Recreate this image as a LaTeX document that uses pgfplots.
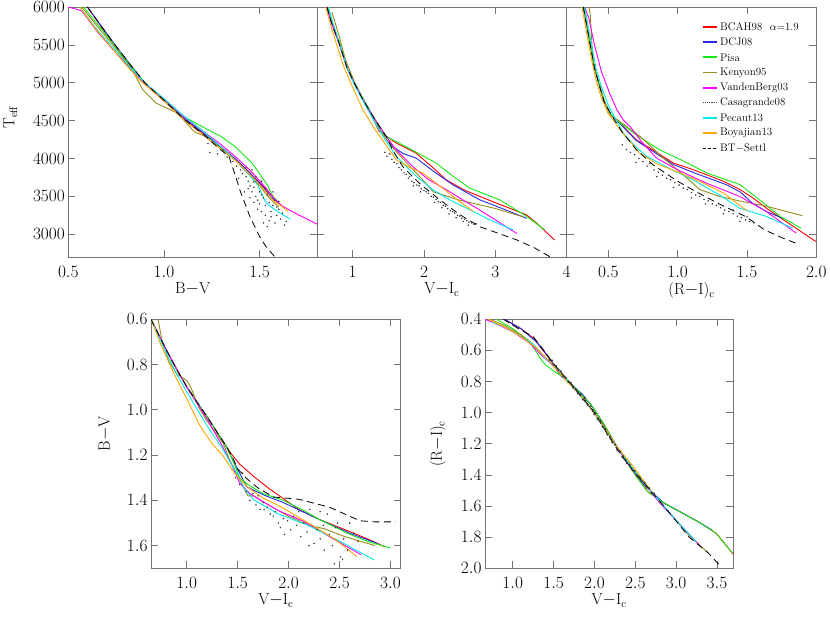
\documentclass[border=0pt]{standalone}
\usepackage{pgfplots}
\pgfplotsset{compat=1.18}

\definecolor{colA}{RGB}{255,0,0}
\definecolor{colB}{RGB}{40,40,230}
\definecolor{colC}{RGB}{20,235,20}
\definecolor{colD}{RGB}{150,140,30}
\definecolor{colE}{RGB}{255,0,255}
\definecolor{colF}{RGB}{0,235,235}
\definecolor{colG}{RGB}{255,165,0}

\newcommand{\lblfont}{\fontsize{16}{16}\selectfont}
\tikzset{lgtext/.style={anchor=west, font=\fontsize{11}{13}\selectfont, inner sep=0pt}}

\pgfplotsset{
  sBCAH/.style={colA, line width=0.9pt, mark=none},
  sDCJ/.style={colB, line width=0.9pt, mark=none},
  sPisa/.style={colC, line width=0.9pt, mark=none},
  sKen/.style={colD, line width=0.9pt, mark=none},
  sVdB/.style={colE, line width=0.9pt, mark=none},
  sCas/.style={only marks, mark=*, mark size=0.5pt, black!80},
  sPec/.style={colF, line width=0.9pt, mark=none},
  sBoy/.style={colG, line width=0.9pt, mark=none},
  sBT/.style={black, line width=0.8pt, mark=none, dash pattern=on 7pt off 4.5pt},
  key/.style={line width=1.8pt},
  panel/.style={
    scale only axis, anchor=south west,
    axis line style={black!55, line width=0.8pt},
    every tick/.style={black!55, line width=0.7pt},
    major tick length=7pt,
    tick align=inside,
    tick label style={font=\lblfont},
    xticklabel shift=6pt,
    every axis x label/.style={at={(axis description cs:0.5,0)}, anchor=north, yshift=-22pt, font=\lblfont},
    every axis y label/.style={font=\lblfont},
    enlargelimits=false,
    /pgf/number format/fixed, /pgf/number format/fixed zerofill, /pgf/number format/precision=1,
  },
}

\begin{document}
\begin{tikzpicture}
\useasboundingbox (0pt,0pt) rectangle (830pt,617pt);

% ---------- panel 1: B-V vs Teff
\begin{axis}[panel, at={(68.3pt,360pt)}, width=248.7pt, height=250pt,
  xmin=0.5, xmax=1.8, ymin=2700, ymax=6000,
  xtick={0.5,1.0,1.5}, ytick={3000,3500,4000,4500,5000,5500,6000},
  yticklabel style={/pgf/number format/precision=0, /pgf/number format/fixed zerofill=false, /pgf/number format/1000 sep={}},
  xlabel={B$-$V}, ylabel={T$_\mathrm{eff}$},
  ylabel style={at={(axis description cs:0,0.56)}, xshift=-58pt, rotate=90, anchor=center}]
\addplot[sBCAH] coordinates {(0.60,6000)(0.67,5750)(0.74,5500)(0.82,5240)(0.89,5020)(1.00,4760)(1.10,4530)(1.20,4340)(1.30,4150)(1.37,4000)(1.45,3810)(1.52,3630)(1.57,3490)(1.60,3400)};
\addplot[sDCJ] coordinates {(0.60,6000)(0.68,5720)(0.75,5480)(0.83,5220)(0.90,5000)(1.00,4770)(1.10,4540)(1.20,4350)(1.30,4140)(1.38,3980)(1.46,3780)(1.52,3620)(1.56,3490)(1.595,3420)};
\addplot[sPisa] coordinates {(0.58,6000)(0.66,5750)(0.74,5500)(0.82,5240)(0.90,5000)(1.00,4770)(1.10,4560)(1.20,4420)(1.30,4290)(1.38,4140)(1.46,3940)(1.50,3800)(1.54,3650)(1.57,3500)(1.60,3420)};
\addplot[sKen] coordinates {(0.57,6000)(0.65,5750)(0.75,5450)(0.83,5190)(0.89,4905)(0.96,4730)(1.07,4600)(1.16,4350)(1.22,4290)(1.30,4130)(1.38,3960)(1.44,3800)(1.50,3640)(1.55,3480)(1.60,3360)};
\addplot[sVdB] coordinates {(0.50,6000)(0.57,5950)(0.65,5680)(0.74,5420)(0.82,5200)(0.90,4990)(1.00,4780)(1.10,4560)(1.20,4370)(1.30,4180)(1.38,4010)(1.46,3820)(1.53,3620)(1.58,3460)(1.62,3370)(1.70,3260)(1.80,3135)(1.85,3070)};
\addplot[sCas] coordinates {(1.23,4200)(1.24,4080)(1.28,4060)(1.31,4110)(1.33,4020)(1.36,3960)(1.38,3900)(1.40,3850)(1.41,3800)(1.43,3760)(1.44,3700)(1.45,3640)(1.46,3560)(1.47,3620)(1.48,3500)(1.49,3450)(1.50,3400)(1.50,3560)(1.51,3300)(1.52,3480)(1.53,3380)(1.53,3250)(1.54,3520)(1.55,3420)(1.55,3180)(1.56,3300)(1.57,3380)(1.58,3450)(1.58,3150)(1.59,3250)(1.60,3330)(1.61,3200)(1.62,3280)(1.63,3120)(1.64,3170)(1.47,3420)(1.45,3480)(1.49,3330)(1.52,3150)(1.42,3560)(1.43,3880)(1.39,3740)(1.46,3850)(1.48,3760)(1.51,3700)(1.57,3560)(1.60,3430)(1.54,3100)(1.44,3600)(1.51,3520)(1.56,3230)(1.59,3360)(1.53,3600)(1.47,3690)};
\addplot[sPec] coordinates {(0.56,6000)(0.65,5700)(0.74,5450)(0.82,5210)(0.90,5000)(1.00,4790)(1.10,4570)(1.15,4470)(1.20,4370)(1.30,4150)(1.38,3960)(1.44,3800)(1.49,3650)(1.535,3410)(1.60,3290)(1.66,3200)};
\addplot[sBoy] coordinates {(0.56,6000)(0.64,5720)(0.72,5480)(0.80,5240)(0.88,5020)(1.00,4760)(1.10,4520)(1.20,4320)(1.30,4120)(1.38,3960)(1.46,3760)(1.52,3600)(1.57,3450)(1.62,3360)(1.65,3300)};
\addplot[sBT] coordinates {(0.60,6000)(0.68,5720)(0.75,5480)(0.83,5220)(0.90,5000)(1.00,4770)(1.10,4530)(1.20,4330)(1.28,4150)(1.34,4025)(1.37,3800)(1.40,3560)(1.45,3230)(1.50,2970)(1.53,2850)(1.56,2760)(1.58,2700)};
\end{axis}

% ---------- panel 2: V-I vs Teff
\begin{axis}[panel, at={(317pt,360pt)}, width=249.7pt, height=250pt,
  xmin=0.5, xmax=4, ymin=2700, ymax=6000,
  xtick={1,2,3,4}, ytick={3000,3500,4000,4500,5000,5500,6000}, yticklabels={},
  xticklabel style={/pgf/number format/precision=0, /pgf/number format/fixed zerofill=false},
  xlabel={V$-$I$_\mathrm{c}$}]
\addplot[sBCAH] coordinates {(0.64,6000)(0.70,5800)(0.81,5520)(0.92,5200)(1.02,5000)(1.12,4820)(1.23,4640)(1.37,4360)(1.60,4210)(1.89,4070)(2.10,3900)(2.31,3720)(2.55,3590)(2.78,3500)(3.10,3380)(3.44,3255)(3.58,3145)(3.83,2925)};
\addplot[sDCJ] coordinates {(0.64,6000)(0.70,5800)(0.81,5520)(0.92,5200)(1.02,5000)(1.12,4820)(1.23,4640)(1.35,4460)(1.47,4290)(1.56,4160)(1.70,4070)(1.89,4005)(2.15,3820)(2.41,3650)(2.78,3455)(3.15,3320)(3.44,3210)};
\addplot[sPisa] coordinates {(0.65,6000)(0.71,5800)(0.82,5520)(0.93,5200)(1.03,5000)(1.13,4820)(1.24,4640)(1.42,4315)(1.80,4130)(2.17,3940)(2.40,3770)(2.64,3610)(3.06,3455)(3.44,3235)(3.69,3060)};
\addplot[sKen] coordinates {(0.71,5930)(0.80,5650)(0.90,5300)(1.02,5020)(1.15,4760)(1.30,4500)(1.45,4280)(1.60,4100)(1.80,3900)(2.00,3700)(2.13,3560)(2.50,3450)(3.00,3340)(3.39,3230)};
\addplot[sVdB] coordinates {(0.64,6000)(0.70,5800)(0.81,5520)(0.92,5200)(1.02,5000)(1.12,4820)(1.23,4640)(1.35,4460)(1.47,4290)(1.61,4115)(1.84,3895)(2.05,3730)(2.31,3590)(2.55,3450)(2.78,3320)(3.05,3160)(3.30,3010)};
\addplot[sCas] coordinates {(1.45,4080)(1.48,4030)(1.52,4060)(1.55,3990)(1.58,3950)(1.62,3930)(1.65,3880)(1.68,3850)(1.72,3810)(1.75,3790)(1.78,3740)(1.80,3760)(1.83,3700)(1.86,3680)(1.90,3650)(1.93,3640)(1.96,3600)(2.00,3580)(2.03,3560)(2.06,3540)(2.10,3500)(2.13,3490)(2.17,3460)(2.20,3430)(2.23,3420)(2.27,3380)(2.30,3370)(2.33,3340)(2.37,3310)(2.40,3300)(2.43,3280)(2.47,3250)(2.50,3240)(2.53,3210)(2.57,3200)(2.60,3180)(2.63,3160)(2.67,3150)(2.70,3130)(2.73,3140)(2.35,3270)(2.45,3220)(2.55,3170)(2.15,3420)(1.95,3560)(1.85,3640)(2.62,3120)(2.25,3350)};
\addplot[sPec] coordinates {(0.66,6000)(0.72,5800)(0.82,5500)(0.92,5200)(1.02,4980)(1.15,4750)(1.28,4530)(1.42,4300)(1.61,4030)(1.85,3800)(2.12,3590)(2.35,3460)(2.55,3365)(2.90,3200)(3.25,3058)};
\addplot[sBoy] coordinates {(0.62,6000)(0.68,5800)(0.77,5520)(0.88,5200)(0.98,4980)(1.14,4650)(1.30,4400)(1.45,4200)(1.61,3985)(1.80,3880)(1.98,3810)(2.30,3580)(2.50,3430)(2.69,3300)};
\addplot[sBT] coordinates {(0.64,6000)(0.70,5800)(0.81,5520)(0.92,5200)(1.02,5000)(1.12,4820)(1.23,4640)(1.35,4460)(1.47,4290)(1.58,4080)(1.70,3895)(1.95,3660)(2.22,3455)(2.50,3260)(2.78,3100)(3.05,3010)(3.30,2925)(3.55,2820)(3.77,2700)};
\end{axis}

% ---------- panel 3: (R-I) vs Teff, with the key in its upper right
\begin{axis}[panel, at={(566.7pt,360pt)}, width=249.6pt, height=250pt,
  xmin=0.2, xmax=2.0, ymin=2700, ymax=6000,
  xtick={0.5,1.0,1.5,2.0}, ytick={3000,3500,4000,4500,5000,5500,6000}, yticklabels={},
  xlabel={(R$-$I)$_\mathrm{c}$}]
\addplot[sBCAH] coordinates {(0.32,6000)(0.34,5800)(0.36,5600)(0.38,5400)(0.40,5200)(0.43,5000)(0.47,4750)(0.52,4580)(0.585,4460)(0.70,4250)(0.85,4080)(0.97,3940)(1.10,3860)(1.21,3785)(1.33,3700)(1.45,3590)(1.55,3470)(1.64,3345)(1.78,3170)(1.98,2925)(2.02,2880)};
\addplot[sDCJ] coordinates {(0.32,6000)(0.34,5800)(0.36,5600)(0.38,5400)(0.40,5200)(0.43,5000)(0.47,4750)(0.52,4580)(0.585,4460)(0.70,4240)(0.85,4060)(0.97,3920)(1.15,3790)(1.35,3655)(1.45,3560)(1.54,3410)(1.64,3300)(1.76,3210)};
\addplot[sPisa] coordinates {(0.32,6000)(0.34,5800)(0.36,5600)(0.38,5400)(0.40,5200)(0.43,5000)(0.47,4750)(0.52,4580)(0.584,4470)(0.72,4290)(0.87,4115)(1.05,3960)(1.21,3810)(1.45,3655)(1.59,3455)(1.74,3235)(1.89,3080)};
\addplot[sKen] coordinates {(0.36,6000)(0.37,5900)(0.39,5250)(0.45,4900)(0.50,4590)(0.59,4480)(0.73,4290)(0.90,4000)(1.00,3850)(1.16,3590)(1.30,3500)(1.46,3435)(1.64,3370)(1.90,3245)};
\addplot[sVdB] coordinates {(0.33,6000)(0.36,5850)(0.40,5500)(0.45,5150)(0.51,4860)(0.56,4650)(0.607,4510)(0.656,4425)(0.75,4200)(0.848,4005)(1.00,3850)(1.207,3675)(1.447,3500)(1.64,3300)(1.855,3015)};
\addplot[sCas] coordinates {(0.60,4180)(0.63,4120)(0.66,4080)(0.69,4050)(0.72,4000)(0.75,3960)(0.78,3900)(0.80,3930)(0.83,3850)(0.86,3820)(0.89,3780)(0.92,3740)(0.95,3720)(0.98,3680)(1.01,3650)(1.04,3610)(1.07,3590)(1.10,3550)(1.13,3520)(1.16,3500)(1.19,3460)(1.22,3440)(1.25,3400)(1.28,3380)(1.31,3350)(1.34,3320)(1.37,3300)(1.40,3270)(1.43,3240)(1.46,3220)(1.49,3190)(1.52,3170)(1.55,3150)(0.85,3760)(0.97,3620)(1.10,3480)(1.20,3400)(1.33,3270)(1.45,3170)(0.70,3950)(1.50,3230)(1.40,3320)};
\addplot[sPec] coordinates {(0.33,6000)(0.35,5800)(0.38,5500)(0.41,5200)(0.45,4950)(0.50,4700)(0.55,4530)(0.608,4335)(0.70,4150)(0.776,4030)(0.95,3860)(1.11,3720)(1.30,3520)(1.447,3345)(1.64,3235)(1.83,3080)};
\addplot[sBoy] coordinates {(0.31,6000)(0.33,5800)(0.35,5600)(0.38,5300)(0.41,5050)(0.45,4800)(0.50,4600)(0.584,4380)(0.728,4070)(0.85,3930)(1.016,3810)(1.18,3680)(1.33,3545)(1.42,3420)(1.50,3310)};
\addplot[sBT] coordinates {(0.32,6000)(0.34,5800)(0.36,5600)(0.38,5400)(0.40,5200)(0.43,5000)(0.47,4750)(0.52,4580)(0.60,4350)(0.70,4120)(0.82,3920)(1.00,3700)(1.135,3560)(1.30,3400)(1.495,3230)(1.627,3058)(1.76,2948)(1.87,2870)};
% key: short sample strokes and their names
\addplot[sBCAH, key] coordinates {(1.18,5735)(1.285,5735)};
\addplot[sDCJ, key]  coordinates {(1.18,5535)(1.285,5535)};
\addplot[sPisa, key] coordinates {(1.18,5335)(1.285,5335)};
\addplot[sKen, key]  coordinates {(1.18,5135)(1.285,5135)};
\addplot[sVdB, key]  coordinates {(1.18,4935)(1.285,4935)};
\addplot[black!70, densely dotted, line width=1.2pt, mark=none] coordinates {(1.18,4735)(1.285,4735)};
\addplot[sPec, key]  coordinates {(1.18,4535)(1.285,4535)};
\addplot[sBoy, key]  coordinates {(1.18,4335)(1.285,4335)};
\addplot[black, line width=1.1pt, mark=none, dash pattern=on 3pt off 2pt] coordinates {(1.18,4135)(1.285,4135)};
\node[lgtext] at (axis cs:1.305,5735) {BCAH98\ \ $\alpha$=1.9};
\node[lgtext] at (axis cs:1.305,5535) {DCJ08};
\node[lgtext] at (axis cs:1.305,5335) {Pisa};
\node[lgtext] at (axis cs:1.305,5135) {Kenyon95};
\node[lgtext] at (axis cs:1.305,4935) {VandenBerg03};
\node[lgtext] at (axis cs:1.305,4735) {Casagrande08};
\node[lgtext] at (axis cs:1.305,4535) {Pecaut13};
\node[lgtext] at (axis cs:1.305,4335) {Boyajian13};
\node[lgtext] at (axis cs:1.305,4135) {BT$-$Settl};
\end{axis}

% ---------- panel 4: V-I vs B-V
\begin{axis}[panel, at={(151pt,48.7pt)}, width=249.7pt, height=249pt,
  xmin=0.65, xmax=3.1, ymin=0.6, ymax=1.7, y dir=reverse,
  xtick={1.0,1.5,2.0,2.5,3.0}, ytick={0.6,0.8,1.0,1.2,1.4,1.6},
  xlabel={V$-$I$_\mathrm{c}$}, ylabel={B$-$V},
  ylabel style={at={(axis description cs:0,0.54)}, xshift=-46pt, rotate=90, anchor=center}]
\addplot[sBCAH] coordinates {(0.65,0.60)(0.70,0.645)(0.80,0.735)(0.90,0.82)(1.00,0.897)(1.10,0.965)(1.20,1.03)(1.30,1.10)(1.43,1.19)(1.52,1.24)(1.66,1.295)(1.80,1.345)(1.92,1.383)(2.10,1.44)(2.31,1.486)(2.50,1.52)(2.64,1.545)(2.80,1.575)(2.94,1.604)};
\addplot[sDCJ] coordinates {(0.65,0.60)(0.70,0.645)(0.80,0.735)(0.90,0.82)(1.00,0.897)(1.10,0.965)(1.20,1.03)(1.30,1.10)(1.39,1.162)(1.45,1.22)(1.52,1.28)(1.59,1.34)(1.75,1.375)(1.95,1.41)(2.31,1.486)(2.60,1.545)(2.87,1.59)};
\addplot[sPisa] coordinates {(0.65,0.60)(0.70,0.645)(0.80,0.735)(0.90,0.82)(1.00,0.897)(1.10,0.965)(1.20,1.03)(1.30,1.10)(1.39,1.162)(1.45,1.22)(1.52,1.30)(1.60,1.33)(1.75,1.37)(1.95,1.40)(2.15,1.445)(2.31,1.486)(2.60,1.55)(2.80,1.585)(3.00,1.61)};
\addplot[sKen] coordinates {(0.72,0.60)(0.76,0.70)(0.82,0.78)(0.90,0.84)(1.00,0.87)(1.04,0.90)(1.12,0.99)(1.20,1.05)(1.30,1.11)(1.36,1.15)(1.42,1.22)(1.50,1.29)(1.60,1.38)(1.66,1.38)(1.80,1.42)(2.00,1.47)(2.20,1.51)(2.35,1.525)(2.55,1.56)(2.70,1.58)(2.85,1.60)};
\addplot[sVdB] coordinates {(0.65,0.60)(0.80,0.735)(1.00,0.90)(1.20,1.04)(1.35,1.16)(1.45,1.25)(1.52,1.324)(1.62,1.37)(1.72,1.398)(1.90,1.445)(2.15,1.493)(2.40,1.56)(2.71,1.64)};
\addplot[sCas] coordinates {(1.48,1.30)(1.52,1.33)(1.55,1.28)(1.58,1.36)(1.62,1.40)(1.65,1.37)(1.68,1.42)(1.72,1.44)(1.75,1.41)(1.76,1.44)(1.79,1.43)(1.82,1.46)(1.85,1.47)(1.87,1.45)(1.90,1.50)(1.92,1.52)(1.95,1.48)(1.99,1.49)(2.02,1.53)(2.05,1.47)(2.08,1.51)(2.12,1.56)(2.15,1.50)(2.18,1.54)(2.21,1.44)(2.25,1.59)(2.28,1.53)(2.31,1.45)(2.31,1.57)(2.34,1.51)(2.38,1.46)(2.40,1.55)(2.43,1.60)(2.46,1.52)(2.48,1.50)(2.51,1.65)(2.54,1.57)(2.58,1.62)(2.64,1.545)(2.60,1.50)(2.35,1.62)(2.20,1.60)(1.70,1.38)(2.68,1.58)(2.10,1.45)(1.96,1.55)(2.45,1.68)(2.53,1.66)};
\addplot[sPec] coordinates {(0.65,0.60)(0.80,0.75)(0.90,0.84)(1.00,0.92)(1.20,1.07)(1.35,1.17)(1.49,1.28)(1.57,1.35)(1.66,1.398)(1.90,1.46)(2.18,1.508)(2.50,1.58)(2.84,1.663)};
\addplot[sBoy] coordinates {(0.65,0.60)(0.75,0.715)(0.85,0.815)(0.93,0.89)(1.00,0.95)(1.13,1.07)(1.25,1.15)(1.36,1.205)(1.47,1.28)(1.59,1.339)(1.75,1.39)(1.92,1.427)(2.25,1.515)(2.45,1.57)(2.67,1.648)};
\addplot[sBT] coordinates {(0.65,0.60)(0.70,0.645)(0.80,0.735)(0.90,0.82)(1.00,0.897)(1.10,0.965)(1.20,1.03)(1.30,1.10)(1.39,1.162)(1.45,1.21)(1.50,1.26)(1.58,1.30)(1.70,1.345)(1.85,1.385)(2.10,1.395)(2.40,1.43)(2.70,1.49)(2.85,1.495)(3.05,1.495)};
\end{axis}

% ---------- panel 5: V-I vs (R-I)
\begin{axis}[panel, at={(485pt,48.7pt)}, width=248.3pt, height=249pt,
  xmin=0.66, xmax=3.7, ymin=0.4, ymax=2.0, y dir=reverse,
  xtick={1.0,1.5,2.0,2.5,3.0,3.5}, ytick={0.4,0.6,0.8,1.0,1.2,1.4,1.6,1.8,2.0},
  xlabel={V$-$I$_\mathrm{c}$}, ylabel={(R$-$I)$_\mathrm{c}$},
  ylabel style={at={(axis description cs:0,0.50)}, xshift=-47pt, rotate=90, anchor=center}]
\addplot[sBCAH] coordinates {(0.90,0.40)(1.10,0.46)(1.25,0.52)(1.40,0.62)(1.55,0.72)(1.74,0.83)(1.96,0.95)(2.10,1.06)(2.30,1.24)(2.50,1.40)(2.65,1.507)(2.85,1.58)(3.08,1.646)(3.30,1.71)(3.49,1.775)(3.69,1.903)(3.75,1.94)};
\addplot[sDCJ] coordinates {(0.90,0.40)(1.10,0.46)(1.30,0.55)(1.45,0.65)(1.577,0.758)(1.70,0.81)(1.85,0.88)(2.00,0.98)(2.20,1.16)(2.40,1.32)(2.60,1.46)(2.70,1.51)(2.85,1.58)(3.08,1.646)(3.30,1.71)(3.44,1.755)};
\addplot[sPisa] coordinates {(0.80,0.40)(1.00,0.46)(1.20,0.54)(1.30,0.62)(1.36,0.67)(1.42,0.70)(1.52,0.74)(1.65,0.78)(1.80,0.86)(1.96,0.95)(2.10,1.06)(2.30,1.24)(2.50,1.40)(2.65,1.507)(2.85,1.58)(3.08,1.646)(3.30,1.71)(3.49,1.775)(3.69,1.903)};
\addplot[sKen] coordinates {(0.72,0.40)(0.90,0.44)(1.10,0.50)(1.25,0.56)(1.40,0.65)(1.55,0.73)(1.74,0.835)(1.98,0.99)(2.15,1.12)(2.31,1.25)(2.50,1.38)(2.72,1.52)(2.96,1.67)(3.16,1.79)(3.39,1.90)};
\addplot[sVdB] coordinates {(0.66,0.40)(0.80,0.43)(1.00,0.48)(1.20,0.55)(1.35,0.63)(1.50,0.70)(1.74,0.835)(1.98,0.99)(2.20,1.16)(2.40,1.32)(2.60,1.45)(2.80,1.58)(3.05,1.72)(3.30,1.86)};
\addplot[sPec] coordinates {(0.75,0.42)(0.90,0.45)(1.10,0.51)(1.25,0.56)(1.40,0.65)(1.55,0.72)(1.74,0.835)(1.98,0.99)(2.20,1.16)(2.40,1.31)(2.60,1.45)(2.85,1.60)(3.05,1.72)(3.25,1.83)};
\addplot[sBoy] coordinates {(0.70,0.40)(0.90,0.45)(1.10,0.51)(1.30,0.59)(1.45,0.67)(1.65,0.79)(1.85,0.90)(2.05,1.04)(2.25,1.20)(2.45,1.33)(2.55,1.40)(2.69,1.50)};
\addplot[sBT] coordinates {(0.886,0.40)(1.10,0.47)(1.25,0.511)(1.38,0.60)(1.496,0.683)(1.62,0.76)(1.74,0.833)(1.86,0.91)(1.98,0.983)(2.15,1.13)(2.31,1.26)(2.47,1.37)(2.72,1.52)(2.96,1.67)(3.16,1.80)(3.39,1.90)(3.55,1.99)};
\addplot[sCas, mark size=0.9pt] coordinates {(1.42,0.63)(1.45,0.66)(1.48,0.665)(1.50,0.69)(1.53,0.70)(1.56,0.725)(1.59,0.735)(1.62,0.765)(1.65,0.775)(1.68,0.80)(1.71,0.81)(1.74,0.84)(1.77,0.85)(1.80,0.875)(1.83,0.885)(1.86,0.915)(1.89,0.925)(1.92,0.95)(1.95,0.96)(1.98,0.99)(2.01,1.005)(2.04,1.04)(2.07,1.055)(2.10,1.09)(2.13,1.105)(2.16,1.14)(2.19,1.155)(2.22,1.19)(2.25,1.205)(2.28,1.24)(2.31,1.25)(2.34,1.285)(2.37,1.30)(2.40,1.325)(2.43,1.335)(2.46,1.365)(2.49,1.375)(2.52,1.405)(2.55,1.415)(2.58,1.44)(2.61,1.45)(2.64,1.48)(2.67,1.485)(2.70,1.515)(2.73,1.52)(1.88,0.905)(2.00,1.01)(2.20,1.17)(2.35,1.28)};
\end{axis}
\end{tikzpicture}
\end{document}
